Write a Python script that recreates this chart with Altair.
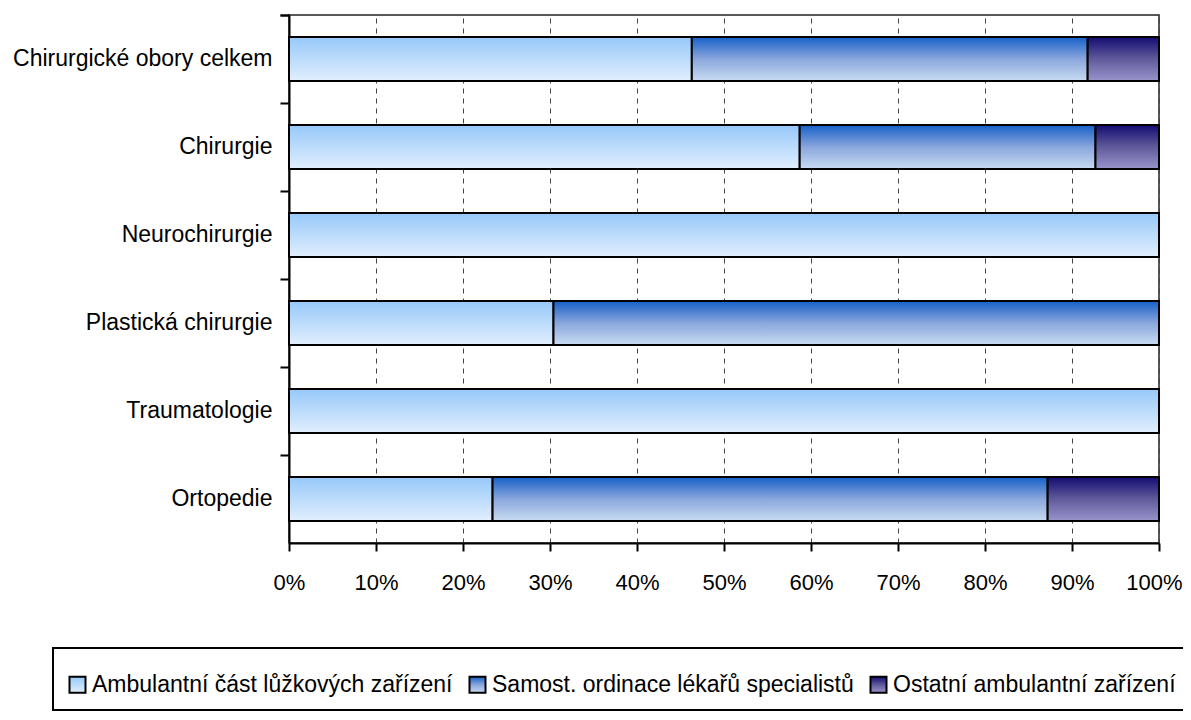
import altair as alt
import pandas as pd

categories = ["Chirurgické obory celkem", "Chirurgie", "Neurochirurgie",
              "Plastická chirurgie", "Traumatologie", "Ortopedie"]
series = ["Ambulantní část lůžkových zařízení",
          "Samost. ordinace lékařů specialistů",
          "Ostatní ambulantní zařízení"]
ambulantni = [46.3, 58.7, 100.0, 30.4, 100.0, 23.4]
samost = [45.5, 34.0, 0.0, 69.6, 0.0, 63.8]
ostatni = [8.2, 7.3, 0.0, 0.0, 0.0, 12.8]
x_ticks = [0, 0.1, 0.2, 0.3, 0.4, 0.5, 0.6, 0.7, 0.8, 0.9, 1.0]

rows = []
for i, c in enumerate(categories):
    for j, (s, vals) in enumerate(zip(series, [ambulantni, samost, ostatni])):
        rows.append({"kat": c, "serie": s, "ord": j, "value": vals[i] / 100.0})
df = pd.DataFrame(rows)


def grad(stops):
    parts = ",".join("{offset:%s,color:'%s'}" % (o, c) for o, c in stops)
    return {"expr": "{gradient:'linear',x1:0,y1:0,x2:0,y2:1,stops:[%s]}" % parts}


g_amb = grad([(0, "#96c8fa"), (1, "#e2effd")])
g_sam = grad([(0, "#1560c8"), (0.5, "#8aa6dc"), (1, "#c8dcf2")])
g_ost = grad([(0, "#120c70"), (0.5, "#605a9c"), (1, "#9a94cc")])

FONT = "Liberation Sans"

chart = alt.Chart(df).transform_filter(
    alt.datum.value > 0
).mark_bar(
    height=alt.RelativeBandSize(0.5), stroke="black", strokeWidth=2
).encode(
    y=alt.Y("kat:N", sort=categories, title=None,
            scale=alt.Scale(paddingInner=0, paddingOuter=0),
            axis=alt.Axis(bandPosition=0, tickExtra=True, tickSize=9, tickWidth=2,
                          tickColor="black", domainColor="black", domainWidth=2,
                          labelFontSize=23, labelColor="black", labelFont=FONT,
                          labelPadding=8, grid=False, labelLimit=400)),
    x=alt.X("value:Q", stack="zero", title=None,
            scale=alt.Scale(domain=[0, 1], nice=False),
            axis=alt.Axis(values=x_ticks, format=".0%", tickSize=8, tickWidth=2,
                          tickColor="black", domainColor="black", domainWidth=2,
                          labelFontSize=22, labelColor="black", labelFont=FONT,
                          labelPadding=21, labelOverlap=False, labelFlush=False,
                          labelOffset={"condition": {"test": "datum.value >= 1", "value": -5},
                                       "value": 0},
                          grid=True, gridColor="#444444",
                          gridDash=[5, 5], gridWidth=1)),
    color=alt.Color("serie:N", sort=series,
                    scale=alt.Scale(domain=series, range=[g_amb, g_sam, g_ost]),
                    legend=alt.Legend(orient="none", legendX=-236, legendY=633,
                                      direction="horizontal", columns=3,
                                      title=" ", titleOrient="top",
                                      titleFontSize=6, titlePadding=6,
                                      labelFontSize=23, labelFont=FONT,
                                      labelColor="black", symbolType="square",
                                      symbolSize=256, symbolStrokeColor="black",
                                      symbolStrokeWidth=2, symbolOpacity=1,
                                      columnPadding=12, labelOffset=3,
                                      strokeColor="black",
                                      padding=13, labelLimit=600)),
    order=alt.Order("ord:Q"),
).properties(
    width=870, height=528,
    autosize=alt.AutoSizeParams(type="none"),
    padding={"left": 281, "top": 7, "right": 24, "bottom": 177},
).configure_view(
    stroke="#222222", strokeWidth=1.5
).configure_legend(
    strokeWidth=2
)

chart.save("out.html", embed_options={"renderer": "svg", "actions": False})
